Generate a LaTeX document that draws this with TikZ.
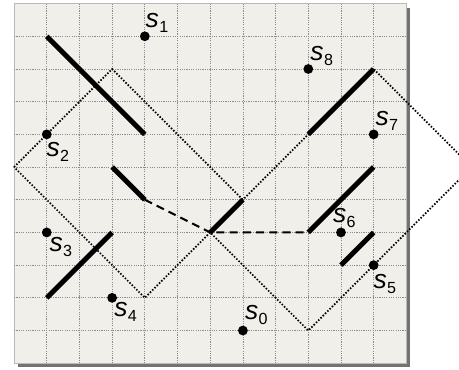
\documentclass[tikz,border=0pt]{standalone}
\usepackage{fontspec}
\setmainfont{Liberation Sans}
\newcommand{\slbl}[1]{{\fontsize{23}{25}\selectfont\itshape s}\kern0.3pt\raisebox{-4.3pt}{\fontsize{14}{15}\selectfont #1}}
\begin{document}
\begin{tikzpicture}[x=1cm,y=1cm,
  gridline/.style={gray!90,line width=0.6pt,dash pattern=on 1pt off 1pt},
  seg/.style={line width=4.3pt,line cap=butt},
  dotline/.style={line width=1.5pt,dash pattern=on 1.3pt off 1.5pt},
  dashline/.style={line width=1.7pt,dash pattern=on 7pt off 4.5pt},
  pt/.style={circle,fill=black,inner sep=0pt,minimum size=0.3cm},
  lbl/.style={inner sep=0pt,anchor=base west}]
\useasboundingbox (-0.43,-0.2) rectangle (13.61,11.11);
\clip (-0.43,-0.2) rectangle (13.61,11.11);
% shadow and panel
\fill[gray!90!black] (0.12,-0.13) rectangle (12.12,10.88);
\filldraw[fill=black!7!white!97!yellow!100,draw=gray!55,line width=0.8pt] (0,0) rectangle (12,11);
\foreach \i in {1,...,11} \draw[gridline] (\i,0) -- (\i,11);
\foreach \j in {1,...,10} \draw[gridline] (0,\j) -- (12,\j);
% diamonds
\coordinate (dl) at (0,6); \coordinate (dt) at (3,9); \coordinate (dr) at (7,5); \coordinate (db) at (4,2);
\coordinate (el) at (6,4); \coordinate (et) at (11,9); \coordinate (er) at (14,6); \coordinate (eb) at (9,1);
\draw[dotline] (dl) -- (dt) -- (dr) -- (db) -- cycle;
\draw[dotline] (el) -- (et) -- (er) -- (eb) -- cycle;
% thick segments
\coordinate (a1) at (1,10); \coordinate (a2) at (4,7);
\coordinate (b1) at (3,6); \coordinate (b2) at (4,5);
\coordinate (c1) at (1,2); \coordinate (c2) at (3,4);
\coordinate (d1) at (6,4); \coordinate (d2) at (7,5);
\coordinate (e1) at (9,7); \coordinate (e2) at (11,9);
\coordinate (f1) at (9,4); \coordinate (f2) at (11,6);
\coordinate (g1) at (10,3); \coordinate (g2) at (11,4);
\draw[seg] (a1) -- (a2);
\draw[seg] (b1) -- (b2);
\draw[seg] (c1) -- (c2);
\draw[seg] (d1) -- (d2);
\draw[seg] (e1) -- (e2);
\draw[seg] (f1) -- (f2);
\draw[seg] (g1) -- (g2);
% dashed path
\draw[dashline] (b2) -- (d1) -- (f1);
% points
\node[pt] (s0) at (7,1) {};
\node[pt] (s1) at (4,10) {};
\node[pt] (s2) at (1,7) {};
\node[pt] (s3) at (1,4) {};
\node[pt] (s4) at (3,2) {};
\node[pt] (s5) at (11,3) {};
\node[pt] (s6) at (10,4) {};
\node[pt] (s7) at (11,7) {};
\node[pt] (s8) at (9,9) {};
\node[lbl] (l0) at ([shift={(0.06,0.34)}]s0.center) {\slbl{0}};
\node[lbl] (l1) at ([shift={(0.02,0.28)}]s1.center) {\slbl{1}};
\node[lbl] (l2) at ([shift={(-0.01,-0.69)}]s2.center) {\slbl{2}};
\node[lbl] (l3) at ([shift={(0.08,-0.57)}]s3.center) {\slbl{3}};
\node[lbl] (l4) at ([shift={(0.06,-0.57)}]s4.center) {\slbl{4}};
\node[lbl] (l5) at ([shift={(-0.01,-0.71)}]s5.center) {\slbl{5}};
\node[lbl] (l6) at ([shift={(-0.25,0.3)}]s6.center) {\slbl{6}};
\node[lbl] (l7) at ([shift={(0.05,0.27)}]s7.center) {\slbl{7}};
\node[lbl] (l8) at ([shift={(0.06,0.25)}]s8.center) {\slbl{8}};
\end{tikzpicture}
\end{document}
